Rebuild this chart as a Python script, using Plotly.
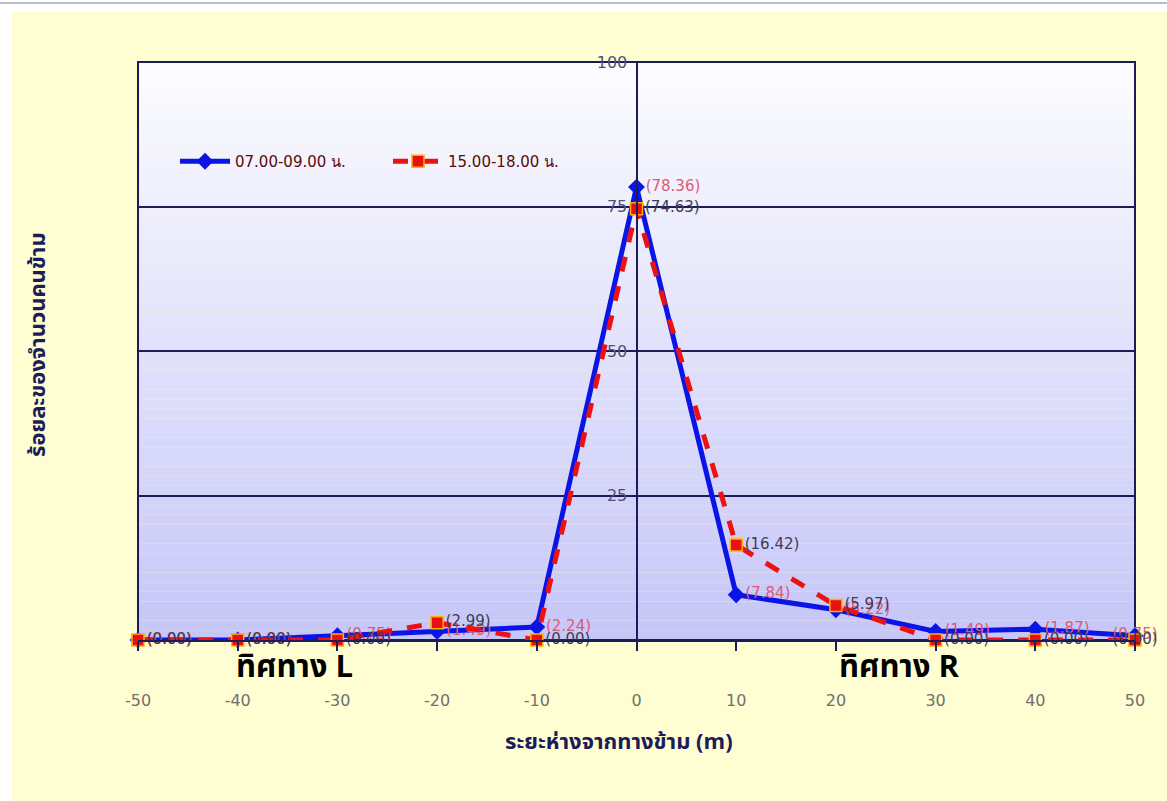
import plotly.graph_objects as go

distance = [-50, -40, -30, -20, -10, 0, 10, 20, 30, 40, 50]
morning = [0.00, 0.00, 0.75, 1.49, 2.24, 78.36, 7.84, 5.22, 1.49, 1.87, 0.75]
evening = [0.00, 0.00, 0.00, 2.99, 0.00, 74.63, 16.42, 5.97, 0.00, 0.00, 0.00]
series_names = ["07.00-09.00 น.", "15.00-18.00 น."]
y_ticks = [25, 50, 75, 100]
x_ticks = [-50, -40, -30, -20, -10, 0, 10, 20, 30, 40, 50]

NAVY = "#1c1c5a"
W, H = 1167, 801
L, R, T, B = 138, 32, 62, 161
PW, PH = W - L - R, H - T - B


def px_x(px):
    return (px - L) / PW


def px_y(py):
    return (H - B - py) / PH


text_pos = ["middle right"] * (len(distance) - 1) + ["middle center"]

fig = go.Figure()

fig.add_trace(go.Scatter(
    x=distance, y=morning, name=series_names[0], legend="legend",
    mode="lines+markers+text",
    line=dict(color="#0a14e6", width=5),
    marker=dict(symbol="diamond", size=13, color="#0a14e6"),
    texttemplate="(%{y:.2f})", textposition=text_pos,
    textfont=dict(family="DejaVu Sans, sans-serif", size=15, color="#dc5a78"),
    cliponaxis=False,
))
fig.add_trace(go.Scatter(
    x=distance, y=evening, name=series_names[1], legend="legend2",
    mode="lines+markers+text",
    line=dict(color="#ee1111", width=5, dash="dash"),
    marker=dict(symbol="square", size=12, color="#e81010",
                line=dict(color="#ffb000", width=1.5)),
    texttemplate="(%{y:.2f})", textposition=text_pos,
    textfont=dict(family="DejaVu Sans, sans-serif", size=15, color="#3c3c55"),
    cliponaxis=False,
))

shapes = []
# yellow page background
shapes.append(dict(type="rect", xref="paper", yref="paper", layer="below",
                   x0=px_x(12), x1=px_x(W + 5), y0=px_y(H + 5), y1=px_y(12),
                   fillcolor="#fffdd2", line=dict(width=0)))
# grey top line
shapes.append(dict(type="line", xref="paper", yref="paper", layer="below",
                   x0=px_x(-5), x1=px_x(W + 5), y0=px_y(3), y1=px_y(3),
                   line=dict(color="#b8bccc", width=2)))
# gradient plot background
n = 60
top = (252, 252, 255)
bot = (198, 198, 248)
for i in range(n):
    f = (i + 0.5) / n
    c = tuple(int(round(top[k] + (bot[k] - top[k]) * f)) for k in range(3))
    shapes.append(dict(type="rect", xref="paper", yref="paper", layer="below",
                       x0=0, x1=1, y0=1 - (i + 1) / n, y1=1 - i / n,
                       fillcolor="rgb(%d,%d,%d)" % c, line=dict(width=0)))
# plot border
shapes.append(dict(type="rect", xref="paper", yref="paper", layer="below",
                   x0=0, x1=1, y0=0, y1=1, line=dict(color=NAVY, width=2)))

THAI = "Tahoma, Noto Sans Thai, DejaVu Sans, sans-serif"
annotations = [
    dict(text="<b>ทิศทาง L</b>", x=px_x(294), y=px_y(667), xref="paper", yref="paper",
         showarrow=False, font=dict(size=31, color="black", family=THAI),
         xanchor="center", yanchor="middle"),
    dict(text="<b>ทิศทาง R</b>", x=px_x(899), y=px_y(667), xref="paper", yref="paper",
         showarrow=False, font=dict(size=31, color="black", family=THAI),
         xanchor="center", yanchor="middle"),
    dict(text="<b>ระยะห่างจากทางข้าม (m)</b>", x=px_x(619), y=px_y(742), xref="paper", yref="paper",
         showarrow=False, font=dict(size=22, color=NAVY, family=THAI),
         xanchor="center", yanchor="middle"),
    dict(text="<b>ร้อยละของจำนวนคนข้าม</b>", x=px_x(38), y=px_y(345), xref="paper", yref="paper",
         showarrow=False, textangle=-90, font=dict(size=22, color=NAVY, family=THAI),
         xanchor="center", yanchor="middle"),
]

legend_common = dict(orientation="h", xanchor="left", yanchor="top",
                     bgcolor="rgba(0,0,0,0)", font=dict(size=15, color="#5a0a0a"),
                     itemwidth=50)

fig.update_layout(
    width=W, height=H,
    margin=dict(l=L, r=R, t=T, b=B),
    paper_bgcolor="white",
    plot_bgcolor="rgba(0,0,0,0)",
    font=dict(family="DejaVu Sans, sans-serif"),
    shapes=shapes,
    annotations=annotations,
    showlegend=True,
    legend=dict(x=px_x(175), y=px_y(145), **legend_common),
    legend2=dict(x=px_x(388), y=px_y(145), **legend_common),
    xaxis=dict(range=[-50, 50], tickvals=x_ticks, ticktext=[str(v) for v in x_ticks],
               showgrid=False, zeroline=False,
               showline=True, linecolor=NAVY, linewidth=2,
               ticks="outside", ticklen=9, tickcolor=NAVY, tickwidth=1.5,
               ticklabelstandoff=36,
               tickfont=dict(size=16, color="#707070", family="DejaVu Sans, sans-serif")),
    yaxis=dict(range=[0, 100], tickvals=y_ticks, showgrid=True, gridcolor=NAVY, gridwidth=1.5,
               zeroline=False, showline=True, linecolor=NAVY, linewidth=2,
               anchor="free", position=0.5, ticks="outside", ticklen=5,
               tickcolor="rgba(0,0,0,0)",
               tickfont=dict(size=16, color="#50507a", family="DejaVu Sans, sans-serif")),
)

fig.write_html("out.html")
